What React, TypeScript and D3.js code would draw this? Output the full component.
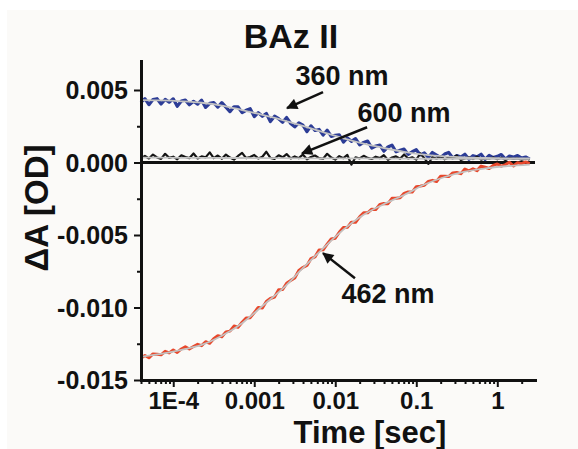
import React, { useEffect, useRef } from 'react'
import * as d3 from 'd3'

// time axis of the traces [s]
const time = [
  3.98e-5, 4.47e-5, 5.01e-5, 5.62e-5, 6.31e-5, 7.08e-5, 7.94e-5, 8.91e-5,
  1.0e-4, 1.12e-4, 1.26e-4, 1.41e-4, 1.58e-4, 1.78e-4, 2.0e-4, 2.24e-4, 2.51e-4, 2.82e-4,
  3.16e-4, 3.55e-4, 3.98e-4, 4.47e-4, 5.01e-4, 5.62e-4, 6.31e-4, 7.08e-4, 7.94e-4, 8.91e-4,
  1.0e-3, 1.12e-3, 1.26e-3, 1.41e-3, 1.58e-3, 1.78e-3, 2.0e-3, 2.24e-3, 2.51e-3, 2.82e-3,
  3.16e-3, 3.55e-3, 3.98e-3, 4.47e-3, 5.01e-3, 5.62e-3, 6.31e-3, 7.08e-3, 7.94e-3, 8.91e-3,
  0.01, 0.0112, 0.0126, 0.0141, 0.0158, 0.0178, 0.02, 0.0224, 0.0251, 0.0282,
  0.0316, 0.0355, 0.0398, 0.0447, 0.0501, 0.0562, 0.0631, 0.0708, 0.0794, 0.0891,
  0.1, 0.112, 0.126, 0.141, 0.158, 0.178, 0.2, 0.224, 0.251, 0.282,
  0.316, 0.355, 0.398, 0.447, 0.501, 0.562, 0.631, 0.708, 0.794, 0.891,
  1.0, 1.12, 1.26, 1.41, 1.58, 1.78, 2.0, 2.24, 2.51,
]

// measured traces, dA in mOD
const abs360 = [
  4.15, 4.40, 3.99, 4.34, 4.40, 4.03, 4.35, 4.16, 4.39, 3.88,
  4.24, 4.30, 3.98, 4.22, 4.02, 4.30, 3.80, 4.08, 4.13, 3.82,
  4.13, 3.82, 3.51, 3.84, 3.83, 3.44, 3.60, 3.71, 3.17, 3.44,
  3.19, 3.38, 2.83, 3.19, 3.02, 2.78, 3.10, 2.69, 2.46, 2.74,
  2.58, 2.13, 2.53, 2.21, 2.28, 1.89, 2.23, 1.80, 1.88, 1.91,
  1.41, 1.70, 1.46, 1.65, 1.22, 1.38, 1.48, 1.00, 1.14, 1.20,
  0.78, 1.07, 1.20, 0.74, 0.84, 0.92, 0.56, 0.74, 0.88, 0.52,
  0.66, 0.34, 0.69, 0.51, 0.34, 0.58, 0.69, 0.31, 0.48, 0.38,
  0.57, 0.22, 0.47, 0.39, 0.57, 0.21, 0.49, 0.34, 0.42, 0.55,
  0.23, 0.44, 0.37, 0.48, 0.30, 0.38, 0.23,
]

const abs600 = [
  0.30, 0.45, 0.28, 0.55, 0.35, 0.25, 0.60, 0.32, 0.40, 0.22,
  0.50, 0.38, 0.30, 0.62, 0.28, 0.42, 0.35, 0.70, 0.30, 0.48,
  0.26, 0.55, 0.34, 0.20, 0.45, 0.66, 0.30, 0.38, 0.52, 0.28,
  0.40, 0.74, 0.32, 0.25, 0.50, 0.36, 0.58, 0.28, 0.42, 0.30,
  0.55, 0.22, 0.38, 0.48, 0.30, 0.26, 0.60, 0.34, 0.20, 0.44,
  0.30, 0.52, -0.15, 0.36, 0.28, 0.46, 0.32, 0.24, 0.40, 0.30,
  0.50, 0.18, 0.34, 0.42, 0.26, 0.55, 0.28, 0.36, 0.20, 0.62,
  0.30, -0.10, 0.38, 0.26, 0.44, 0.22, 0.34, 0.30, 0.48, 0.18,
  0.28, 0.36, 0.24, 0.40, 0.20, 0.30, 0.26, 0.35, 0.22, 0.32,
  0.18, 0.30, 0.24, 0.28, 0.20, 0.26, 0.22,
]

const abs462 = [
  -13.50, -13.31, -13.47, -13.20, -13.22, -13.26, -13.02, -13.13, -12.93, -13.10,
  -12.86, -12.71, -12.86, -12.69, -12.54, -12.63, -12.36, -12.47, -12.16, -11.95,
  -12.02, -11.68, -11.63, -11.28, -11.36, -11.02, -10.72, -10.70, -10.35, -10.00,
  -10.03, -9.59, -9.38, -9.28, -8.78, -8.76, -8.33, -8.13, -7.97, -7.44,
  -7.24, -7.10, -6.63, -6.51, -6.04, -6.02, -5.63, -5.28, -5.22, -4.81,
  -4.49, -4.47, -4.12, -4.12, -3.75, -3.47, -3.47, -3.22, -3.24, -2.90,
  -2.83, -2.84, -2.47, -2.47, -2.43, -2.13, -2.03, -2.04, -1.67, -1.63,
  -1.57, -1.30, -1.23, -1.31, -0.94, -0.95, -0.97, -0.72, -0.69, -0.77,
  -0.45, -0.57, -0.44, -0.56, -0.25, -0.33, -0.41, -0.20, -0.10, -0.25,
  -0.14, 0.01, -0.24, -0.02, -0.08, 0.04, -0.08,
]

// fitted curves (grey)
const fitTime = [
  3.98e-5, 7.08e-5, 1.26e-4, 2.24e-4, 3.98e-4, 7.08e-4, 1.26e-3, 2.24e-3, 3.98e-3, 7.08e-3,
  0.0126, 0.0224, 0.0398, 0.0708, 0.126, 0.224, 0.398, 0.708, 1.26, 2.51,
]
const fit360 = [4.30, 4.28, 4.22, 4.12, 3.93, 3.62, 3.29, 2.93, 2.52, 2.09, 1.67, 1.30, 1.00, 0.74, 0.54, 0.42, 0.35, 0.31, 0.29, 0.28]
const fit600 = [0.33, 0.33, 0.32, 0.32, 0.31, 0.31, 0.30, 0.30, 0.29, 0.29, 0.28, 0.28, 0.27, 0.27, 0.26, 0.26, 0.25, 0.25, 0.25, 0.25]
const fit462 = [-13.40, -13.20, -12.92, -12.58, -11.95, -11.08, -9.90, -8.70, -7.29, -5.92, -4.63, -3.60, -2.87, -2.24, -1.52, -1.00, -0.63, -0.41, -0.26, -0.14]

const xTicks = [1e-4, 0.001, 0.01, 0.1, 1]
const xTickLabels = ['1E-4', '0.001', '0.01', '0.1', '1']
const yTicks = [5, 0, -5, -10, -15]
const yTickLabels = ['0.005', '0.000', '-0.005', '-0.010', '-0.015']
const yMinorTicks = [2.5, -2.5, -7.5, -12.5]

// annotations: [label, label t, label dA, arrow tail t, tail dA, arrow tip t, tip dA]
const notes: [string, number, number, number, number, number, number][] = [
  ['360 nm', 0.0121, 5.35, 7.06e-3, 4.86, 2.54e-3, 3.75],
  ['600 nm', 0.0707, 2.78, 0.0247, 2.43, 3.89e-3, 0.63],
  ['462 nm', 0.0448, -9.72, 0.0175, -7.99, 7.06e-3, -6.25],
]

const W = 578
const H = 449
const margin = { top: 61, right: 43, bottom: 69, left: 141 }
const font = '"Liberation Sans", Arial, sans-serif'

const App = () => {
  const ref = useRef<SVGSVGElement>(null)

  useEffect(() => {
    const svg = d3.select(ref.current)
    svg.selectAll('*').remove()

    const x = d3.scaleLog().domain([4e-5, 2.92]).range([margin.left, W - margin.right])
    const y = d3.scaleLinear().domain([-15, 7]).range([H - margin.bottom, margin.top])

    svg.append('rect').attr('width', W).attr('height', H).attr('fill', '#ffffff')
    svg.append('rect').attr('x', 7).attr('y', 10).attr('width', W - 7).attr('height', H - 10).attr('fill', '#fbfaf8')

    const defs = svg.append('defs')
    defs.append('marker')
      .attr('id', 'head')
      .attr('viewBox', '0 0 10 10')
      .attr('refX', 9)
      .attr('refY', 5)
      .attr('markerWidth', 5)
      .attr('markerHeight', 4.5)
      .attr('orient', 'auto')
      .attr('markerUnits', 'strokeWidth')
      .append('path')
      .attr('d', 'M0,0 L10,5 L0,10 Z')
      .attr('fill', '#111')

    // zero line
    svg.append('line')
      .attr('x1', x.range()[0]).attr('x2', x.range()[1])
      .attr('y1', y(0)).attr('y2', y(0))
      .attr('stroke', '#111').attr('stroke-width', 3)

    const line = d3.line<[number, number]>().x((d) => x(d[0])).y((d) => y(d[1]))
    const fitLine = d3.line<[number, number]>().x((d) => x(d[0])).y((d) => y(d[1])).curve(d3.curveMonotoneX)

    const traces = [
      { values: abs360, color: '#2c3c96', width: 3.2 },
      { values: abs600, color: '#141414', width: 2.2 },
      { values: abs462, color: '#e8482c', width: 3 },
    ]
    traces.forEach((s) => {
      svg.append('path')
        .datum(time.map((t, i) => [t, s.values[i]] as [number, number]))
        .attr('fill', 'none')
        .attr('stroke', s.color)
        .attr('stroke-width', s.width)
        .attr('stroke-linejoin', 'round')
        .attr('d', line)
    })

    ;[fit360, fit600, fit462].forEach((f) => {
      svg.append('path')
        .datum(fitTime.map((t, i) => [t, f[i]] as [number, number]))
        .attr('fill', 'none')
        .attr('stroke', '#c2c2c2')
        .attr('stroke-width', 1.8)
        .attr('d', fitLine)
    })

    // axes
    const styleAxis = (g) => {
      g.select('.domain').attr('stroke', '#111').attr('stroke-width', 3).attr('stroke-linecap', 'square')
      g.selectAll('.tick line').attr('stroke', '#111').attr('stroke-width', 2)
      g.selectAll('text')
        .attr('fill', '#111')
        .style('font-family', font)
        .style('font-weight', 'bold')
        .style('font-size', '24px')
    }

    const xMinor = x.ticks().filter((t) => !xTicks.some((m) => Math.abs(m - t) / m < 1e-6))
    svg.append('g')
      .attr('transform', `translate(0,${y.range()[0]})`)
      .call(d3.axisBottom(x).tickValues(xMinor).tickSize(4).tickFormat(() => ''))
      .call((g) => g.select('.domain').remove())
      .call((g) => g.selectAll('.tick line').attr('stroke', '#111').attr('stroke-width', 2))

    svg.append('g')
      .attr('transform', `translate(${x.range()[0]},0)`)
      .call(d3.axisLeft(y).tickValues(yMinorTicks).tickSize(4).tickFormat(() => ''))
      .call((g) => g.select('.domain').remove())
      .call((g) => g.selectAll('.tick line').attr('stroke', '#111').attr('stroke-width', 2))

    svg.append('g')
      .attr('transform', `translate(0,${y.range()[0]})`)
      .call(
        d3.axisBottom(x)
          .tickValues(xTicks)
          .tickSize(7)
          .tickSizeOuter(0)
          .tickPadding(5)
          .tickFormat((d, i) => xTickLabels[i])
      )
      .call(styleAxis)

    svg.append('g')
      .attr('transform', `translate(${x.range()[0]},0)`)
      .call(
        d3.axisLeft(y)
          .tickValues(yTicks)
          .tickSize(7)
          .tickSizeOuter(0)
          .tickPadding(6)
          .tickFormat((d, i) => yTickLabels[i])
      )
      .call(styleAxis)
      .call((g) => g.selectAll('text').style('font-size', '25px').attr('dy', '0.34em'))

    // annotations
    notes.forEach(([label, lt, lv, t0, v0, t1, v1]) => {
      svg.append('line')
        .attr('x1', x(t0)).attr('y1', y(v0))
        .attr('x2', x(t1)).attr('y2', y(v1))
        .attr('stroke', '#111')
        .attr('stroke-width', 2.5)
        .attr('marker-end', 'url(#head)')
      svg.append('text')
        .attr('x', x(lt)).attr('y', y(lv))
        .attr('text-anchor', 'middle')
        .style('font-family', font)
        .style('font-weight', 'bold')
        .style('font-size', '27px')
        .attr('fill', '#111')
        .text(label)
    })

    // titles
    svg.append('text')
      .attr('x', 291).attr('y', 48)
      .attr('text-anchor', 'middle')
      .style('font-family', font).style('font-weight', 'bold').style('font-size', '34px')
      .attr('fill', '#111')
      .text('BAz II')

    svg.append('text')
      .attr('x', 370).attr('y', 443)
      .attr('text-anchor', 'middle')
      .style('font-family', font).style('font-weight', 'bold').style('font-size', '31px')
      .attr('fill', '#111')
      .text('Time [sec]')

    svg.append('text')
      .attr('transform', 'translate(48,208) rotate(-90)')
      .attr('text-anchor', 'middle')
      .style('font-family', font).style('font-weight', 'bold').style('font-size', '33px')
      .attr('fill', '#111')
      .text('ΔA [OD]')
  }, [])

  return <svg ref={ref} width={W} height={H} style={{ position: 'absolute', left: 0, top: 0 }} />
}

export default App
